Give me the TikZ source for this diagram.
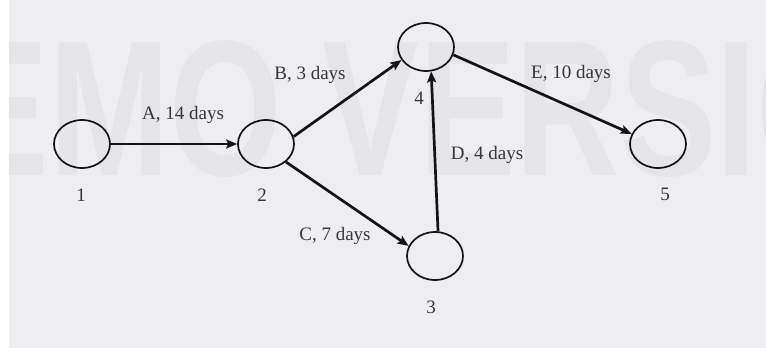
\documentclass[tikz,border=0pt]{standalone}
\usepackage{fontspec}
\setmainfont{Liberation Serif}
\newfontfamily\wmfont{Liberation Sans}
\usepackage{tikz}
\usetikzlibrary{arrows.meta, shapes.geometric}
\definecolor{PaperGray}{RGB}{238, 237, 241}
\definecolor{MarkGray}{RGB}{229, 228, 233}
\definecolor{InkBlack}{RGB}{20, 20, 20}
\definecolor{TextGray}{RGB}{55, 55, 55}

\begin{document}
\begin{tikzpicture}[
            x=1pt, y=-1pt,
            event/.style={draw=InkBlack, line width=1.7pt, ellipse, minimum width=56pt, minimum height=48pt, inner sep=0pt},
            num/.style={text=TextGray, font=\fontsize{19}{21}\selectfont, inner sep=1pt},
            act/.style={num}, % etykiety czynnosci
            arc/.style={draw=InkBlack, line width=2.7pt, -{Stealth[length=11pt, width=9pt, inset=2pt]}}
        ]
        \useasboundingbox (0,0) rectangle (766,351);

        % --- TLO I ZNAK WODNY ---
        \fill[white] (0,0) rectangle (766,351);
        \fill[PaperGray] (9,0) rectangle (766,348);
        \begin{scope}
            \clip (9,0) rectangle (766,348);
            \node[anchor=base west, inner sep=0pt, text=MarkGray, font=\wmfont\bfseries\fontsize{193}{193}\selectfont] (mark) at (-152,175) {\scalebox{0.75}[1]{DEMO VERSION}};
        \end{scope}

        % --- ZDARZENIA ---
        \node[event] (n1) at (82, 144) {};
        \node[event] (n2) at (266, 144) {};
        \node[event] (n3) at (435, 256) {};
        \node[event] (n4) at (426, 47) {};
        \node[event] (n5) at (658, 144) {};

        % Numery pod zdarzeniami
        \node[num] (l1) at (81, 195) {1};
        \node[num] (l2) at (262, 195) {2};
        \node[num] (l3) at (431, 307) {3};
        \node[num] (l4) at (419, 98) {4};
        \node[num] (l5) at (665, 194) {5};

        % --- CZYNNOSCI ---
        \draw[arc] (n1.east) -- (n2.west);
        \node[act] (actA) at (183, 115) {A, 14 days};

        \draw[arc] (n2.15) -- (n4.208);
        \node[act] (actB) at (310, 75) {B, 3 days};

        \draw[arc] (n2.-42) -- (n3.159);
        \node[act] (actC) at (335, 236) {C, 7 days};

        \draw[arc] (n3.83) -- (n4.-78);
        \node[act] (actD) at (487, 155) {D, 4 days};

        \draw[arc] (n4.-16) -- (n5.159);
        \node[act] (actE) at (571, 74) {E, 10 days};

        \end{tikzpicture}
\end{document}
